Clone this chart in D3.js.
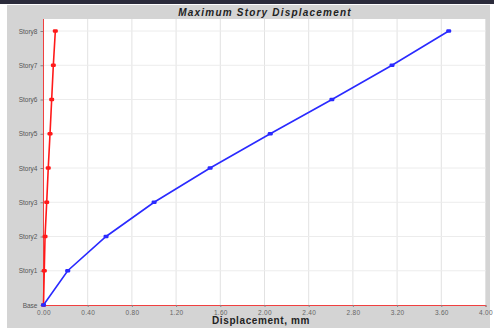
<!DOCTYPE html>
<html>
<head>
<meta charset="utf-8">
<script src="https://cdn.jsdelivr.net/npm/d3@7"></script>
<style>
  body { margin: 0; background: #fff; }
  svg { display: block; font-family: "Liberation Sans", Arial, sans-serif; }
</style>
</head>
<body>
<svg id="chart" width="494" height="333"></svg>
<script>
// data
const stories = ["Base", "Story1", "Story2", "Story3", "Story4", "Story5", "Story6", "Story7", "Story8"];
const redDisp = [0, 0.007, 0.014, 0.029, 0.043, 0.059, 0.074, 0.089, 0.107];
const blueDisp = [0, 0.219, 0.566, 1.001, 1.508, 2.052, 2.610, 3.154, 3.667];
const xTicks = [0, 0.4, 0.8, 1.2, 1.6, 2.0, 2.4, 2.8, 3.2, 3.6, 4.0];

const svg = d3.select("#chart");
const W = 494, H = 333;

// frame
svg.append("rect").attr("x", 0).attr("y", 0).attr("width", W).attr("height", 4).attr("fill", "#2b2b3b");
svg.append("rect").attr("x", 7).attr("y", 5).attr("width", 483).attr("height", 323).attr("fill", "#d4d4d4");

const plotL = 43.5, plotR = 485.5, plotT = 19, plotB = 305;

const x = d3.scaleLinear().domain([0, 4]).range([plotL, plotR]);
const y = d3.scalePoint().domain(stories).range([plotB, 31]);

svg.append("rect")
  .attr("x", plotL).attr("y", plotT)
  .attr("width", plotR - plotL).attr("height", plotB - plotT)
  .attr("fill", "#fff");

// grid
svg.append("g").selectAll("line")
  .data(xTicks.slice(1))
  .enter().append("line")
  .attr("x1", d => x(d)).attr("x2", d => x(d))
  .attr("y1", plotT).attr("y2", plotB)
  .attr("stroke", "#e2e2e2").attr("stroke-width", 1);

svg.append("g").selectAll("line")
  .data(stories.slice(1))
  .enter().append("line")
  .attr("x1", plotL).attr("x2", plotR)
  .attr("y1", d => y(d)).attr("y2", d => y(d))
  .attr("stroke", "#ececec").attr("stroke-width", 1);

// axes
const xAxis = svg.append("g")
  .attr("transform", `translate(0,${plotB})`)
  .call(d3.axisBottom(x).tickValues(xTicks).tickFormat(d3.format(".2f")).tickSize(2).tickPadding(3));
xAxis.select(".domain").attr("stroke", "#f04040").attr("stroke-width", 1);
xAxis.selectAll(".tick line").attr("stroke", "#888");
xAxis.selectAll("text").attr("fill", "#666").style("font-size", "6.5px").style("letter-spacing", "0.3px");

const yAxis = svg.append("g")
  .attr("transform", `translate(${plotL},0)`)
  .call(d3.axisLeft(y).tickSize(3).tickPadding(3));
yAxis.select(".domain").remove();
yAxis.selectAll(".tick line").attr("stroke", "#888");
yAxis.selectAll("text").attr("fill", "#555").style("font-size", "6.5px");

svg.append("line")
  .attr("x1", plotL).attr("x2", plotL).attr("y1", plotT).attr("y2", plotB)
  .attr("stroke", "#f04040").attr("stroke-width", 1);

// series
const line = d3.line().x(d => x(d[0])).y(d => y(d[1]));

function drawSeries(vals, color, shape) {
  const pts = vals.map((v, i) => [v, stories[i]]);
  svg.append("path")
    .datum(pts)
    .attr("d", line)
    .attr("fill", "none")
    .attr("stroke", color)
    .attr("stroke-width", 1.6);
  svg.append("g").selectAll("rect")
    .data(pts)
    .enter().append("rect")
    .attr("x", d => x(d[0]) - shape[0] / 2)
    .attr("y", d => y(d[1]) - shape[1] / 2)
    .attr("width", shape[0]).attr("height", shape[1])
    .attr("rx", 1.2)
    .attr("fill", color);
}

drawSeries(redDisp, "#ff1a1a", [5, 3.5]);
drawSeries(blueDisp, "#2a2aff", [5, 3.5]);

// titles
svg.append("text")
  .attr("x", 265).attr("y", 15.5)
  .attr("text-anchor", "middle")
  .style("font-size", "10px").style("font-weight", "bold").style("font-style", "italic")
  .style("letter-spacing", "1.2px")
  .attr("fill", "#222")
  .text("Maximum Story Displacement");

svg.append("text")
  .attr("x", 261).attr("y", 324)
  .attr("text-anchor", "middle")
  .style("font-size", "10px").style("font-weight", "bold")
  .style("letter-spacing", "0.6px")
  .attr("fill", "#222")
  .text("Displacement, mm");
</script>
</body>
</html>
